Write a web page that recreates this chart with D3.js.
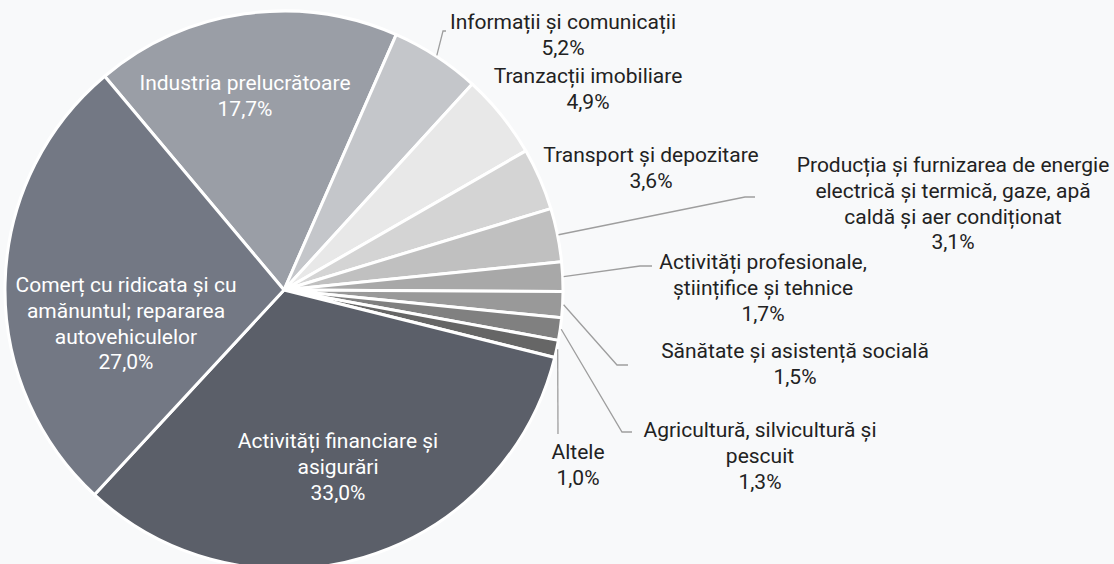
<!DOCTYPE html>
<html>
<head>
<meta charset="utf-8">
<script src="https://cdn.jsdelivr.net/npm/d3@7"></script>
<style>
  html, body { margin: 0; padding: 0; background: #f8f9fa; }
  svg { display: block; font-family: Roboto, "Noto Sans", sans-serif; }
</style>
</head>
<body>
<svg id="chart" width="1114" height="564"></svg>
<script>
// data (percent)
var categories = [
  'Industria prelucrătoare',
  'Informații și comunicații',
  'Tranzacții imobiliare',
  'Transport și depozitare',
  'Producția și furnizarea de energie electrică și termică, gaze, apă caldă și aer condiționat',
  'Activități profesionale, științifice și tehnice',
  'Sănătate și asistență socială',
  'Agricultură, silvicultură și pescuit',
  'Altele',
  'Activități financiare și asigurări',
  'Comerț cu ridicata și cu amănuntul; repararea autovehiculelor'
];
var values = [17.7, 5.2, 4.9, 3.6, 3.1, 1.7, 1.5, 1.3, 1.0, 33.0, 27.0];
var colors = ['#9a9ea6', '#c4c6ca', '#e8e8e8', '#d4d4d4', '#c0c0c0', '#a8a8a8',
              '#999999', '#808080', '#666666', '#5b5f69', '#737884'];

// how each label is broken into lines
var labelLines = [
  ['Industria prelucrătoare'],
  ['Informații și comunicații'],
  ['Tranzacții imobiliare'],
  ['Transport și depozitare'],
  ['Producția și furnizarea de energie', 'electrică și termică, gaze, apă', 'caldă și aer condiționat'],
  ['Activități profesionale,', 'științifice și tehnice'],
  ['Sănătate și asistență socială'],
  ['Agricultură, silvicultură și', 'pescuit'],
  ['Altele'],
  ['Activități financiare și', 'asigurări'],
  ['Comerț cu ridicata și cu', 'amănuntul; repararea', 'autovehiculelor']
];

// label layout: text centre x, first line y, inside flag, leader bend point
var layout = [
  {x: 245, y: 83, inside: true},
  {x: 563, y: 22, bend: [443, 31], end: [446, 31]},
  {x: 588, y: 76},
  {x: 651, y: 155},
  {x: 953, y: 165, bend: [745, 197], end: [755, 197]},
  {x: 763, y: 262, bend: [640, 266], end: [652, 266]},
  {x: 795, y: 351, bend: [617, 365], end: [628, 365]},
  {x: 760, y: 430, bend: [622, 432], end: [632, 432]},
  {x: 578, y: 452, bend: [558, 434], end: [558, 434]},
  {x: 338, y: 441, inside: true},
  {x: 126, y: 285, inside: true}
];

var fmt = function(v) { return d3.format('.1f')(v).replace('.', ',') + '%'; };

var cx = 284, cy = 290, radius = 279, lineH = 25.6;
var svg = d3.select('#chart');
var g = svg.append('g').attr('transform', 'translate(' + cx + ',' + cy + ')');

var start = -40 * Math.PI / 180;
var pie = d3.pie().sort(null).value(function(d) { return d; })
  .startAngle(start).endAngle(start + 2 * Math.PI);
var arc = d3.arc().innerRadius(0).outerRadius(radius);
var arcs = pie(values);

g.selectAll('path.slice').data(arcs).enter().append('path')
  .attr('class', 'slice')
  .attr('d', arc)
  .attr('fill', function(d, i) { return colors[i]; })
  .attr('stroke', '#ffffff')
  .attr('stroke-width', 3)
  .attr('stroke-linejoin', 'round');

// leader lines from slice edge to the label
arcs.forEach(function(d, i) {
  var L = layout[i];
  if (!L.bend) return;
  var mid = (d.startAngle + d.endAngle) / 2;
  var sx = cx + Math.sin(mid) * (radius + 1);
  var sy = cy - Math.cos(mid) * (radius + 1);
  svg.append('polyline')
    .attr('points', [[sx, sy], L.bend, L.end].map(function(p) { return p.join(','); }).join(' '))
    .attr('fill', 'none')
    .attr('stroke', '#9e9e9e')
    .attr('stroke-width', 1.3);
});

// labels
arcs.forEach(function(d, i) {
  var L = layout[i];
  var lines = labelLines[i].concat([fmt(values[i])]);
  var t = svg.append('text')
    .attr('text-anchor', 'middle')
    .attr('font-size', 21)
    .attr('fill', L.inside ? '#ffffff' : '#222222');
  lines.forEach(function(s, k) {
    t.append('tspan')
      .attr('x', L.x)
      .attr('y', L.y + k * lineH)
      .attr('dy', '0.35em')
      .text(s);
  });
});
</script>
</body>
</html>
